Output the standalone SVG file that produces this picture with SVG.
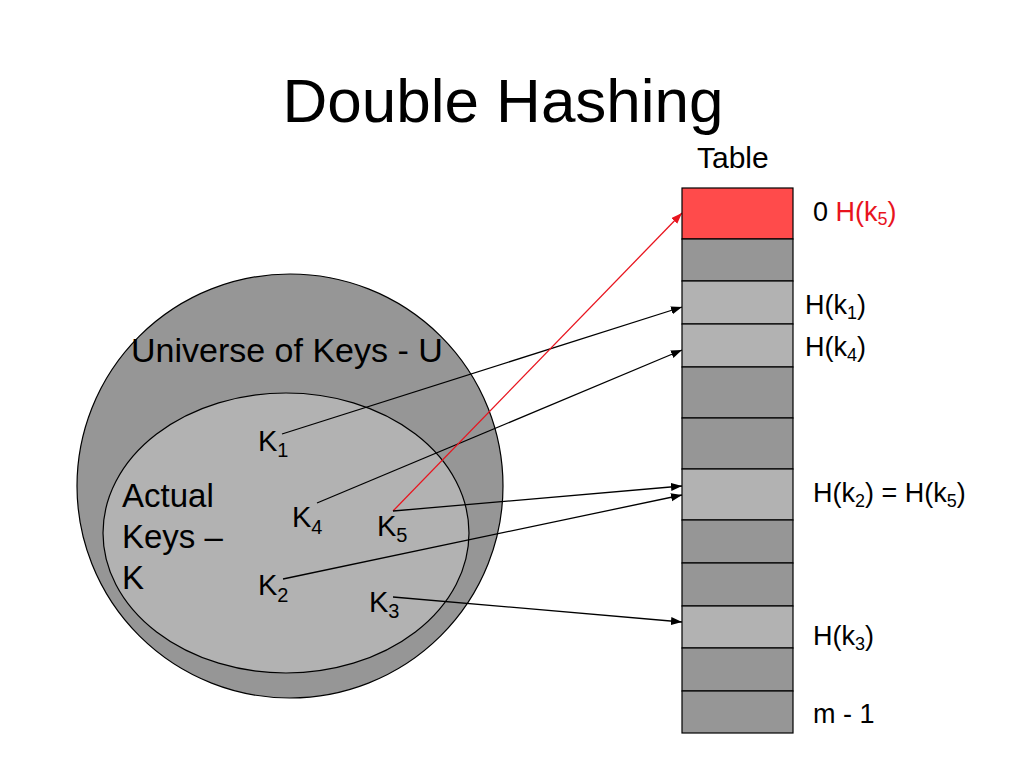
<svg xmlns="http://www.w3.org/2000/svg" width="1024" height="768" viewBox="0 0 1024 768">
<style>
text{font-family:"Liberation Sans",Arial,sans-serif;fill:#000}
.t{font-size:30px}
.k{font-size:29px}
.s{font-size:20px}
.r{font-size:27px}
.rs{font-size:18px}
.red{fill:#E8141E}
.cell{stroke:#000;stroke-width:1.2}
.dk{fill:#969696}
.lt{fill:#B2B2B2}
.rd{fill:#FF4B4B}
.c{stroke:#000;stroke-width:1.3;fill:none}
.cr{stroke:#E8141E;stroke-width:1.3;fill:none}
</style>
<defs>
<marker id="ab" markerUnits="userSpaceOnUse" markerWidth="12" markerHeight="10" refX="11" refY="4" orient="auto"><path d="M0,0 L11,4 L0,8 Z" fill="#000"/></marker>
<marker id="ar" markerUnits="userSpaceOnUse" markerWidth="12" markerHeight="10" refX="11" refY="4" orient="auto"><path d="M0,0 L11,4 L0,8 Z" fill="#E8141E"/></marker>
</defs>
<rect width="1024" height="768" fill="#fff"/>
<text x="503" y="122" font-size="62" text-anchor="middle">Double Hashing</text>
<text x="697" y="168" class="t">Table</text>
<g id="universe">
<ellipse cx="290" cy="486" rx="213" ry="212" fill="#969696" stroke="#000" stroke-width="1.2"/>
<text x="131" y="362" font-size="34">Universe of Keys - U</text>
</g>
<g id="actual">
<ellipse cx="286" cy="533" rx="183" ry="140" fill="#B2B2B2" stroke="#000" stroke-width="1.2"/>
<text x="122" y="507" font-size="33">Actual</text>
<text x="122" y="548" font-size="33">Keys –</text>
<text x="122" y="589" font-size="33">K</text>
</g>
<g id="k1"><text x="258" y="451" class="k">K<tspan class="s" dy="6">1</tspan></text></g>
<g id="k4"><text x="292" y="527" class="k">K<tspan class="s" dy="7">4</tspan></text></g>
<g id="k5"><text x="377" y="536" class="k">K<tspan class="s" dy="6">5</tspan></text></g>
<g id="k2"><text x="258" y="595" class="k">K<tspan class="s" dy="7">2</tspan></text></g>
<g id="k3"><text x="369" y="612" class="k">K<tspan class="s" dy="6">3</tspan></text></g>
<g id="connectors">
<line class="c" x1="282" y1="434" x2="682" y2="307" marker-end="url(#ab)"/>
<line class="c" x1="317" y1="503" x2="682" y2="350" marker-end="url(#ab)"/>
<line class="cr" x1="393" y1="511" x2="682" y2="213" marker-end="url(#ar)"/>
<line class="c" x1="393" y1="511" x2="682" y2="486" marker-end="url(#ab)"/>
<line class="c" x1="283" y1="579" x2="682" y2="495" marker-end="url(#ab)"/>
<line class="c" x1="393" y1="597" x2="682" y2="622" marker-end="url(#ab)"/>
</g>
<g id="table">
<rect class="cell rd" x="682" y="188" width="111" height="51"/>
<rect class="cell dk" x="682" y="239" width="111" height="42"/>
<rect class="cell lt" x="682" y="281" width="111" height="43"/>
<rect class="cell lt" x="682" y="324" width="111" height="43"/>
<rect class="cell dk" x="682" y="367" width="111" height="51"/>
<rect class="cell dk" x="682" y="418" width="111" height="51"/>
<rect class="cell lt" x="682" y="469" width="111" height="51"/>
<rect class="cell dk" x="682" y="520" width="111" height="43"/>
<rect class="cell dk" x="682" y="563" width="111" height="43"/>
<rect class="cell lt" x="682" y="606" width="111" height="42"/>
<rect class="cell dk" x="682" y="648" width="111" height="43"/>
<rect class="cell dk" x="682" y="691" width="111" height="42"/>
</g>
<g id="labels">
<text x="813" y="221" class="r">0 <tspan class="red">H(k<tspan class="rs" dy="4">5</tspan><tspan dy="-4">)</tspan></tspan></text>
<text x="805" y="314" class="r">H(k<tspan class="rs" dy="5">1</tspan><tspan dy="-5">)</tspan></text>
<text x="805" y="356" class="r">H(k<tspan class="rs" dy="5">4</tspan><tspan dy="-5">)</tspan></text>
<text x="813" y="502" class="r">H(k<tspan class="rs" dy="5">2</tspan><tspan dy="-5">) = H(k</tspan><tspan class="rs" dy="5">5</tspan><tspan dy="-5">)</tspan></text>
<text x="813" y="645" class="r">H(k<tspan class="rs" dy="5">3</tspan><tspan dy="-5">)</tspan></text>
<text x="813" y="723" class="r">m - 1</text>
</g>
</svg>
